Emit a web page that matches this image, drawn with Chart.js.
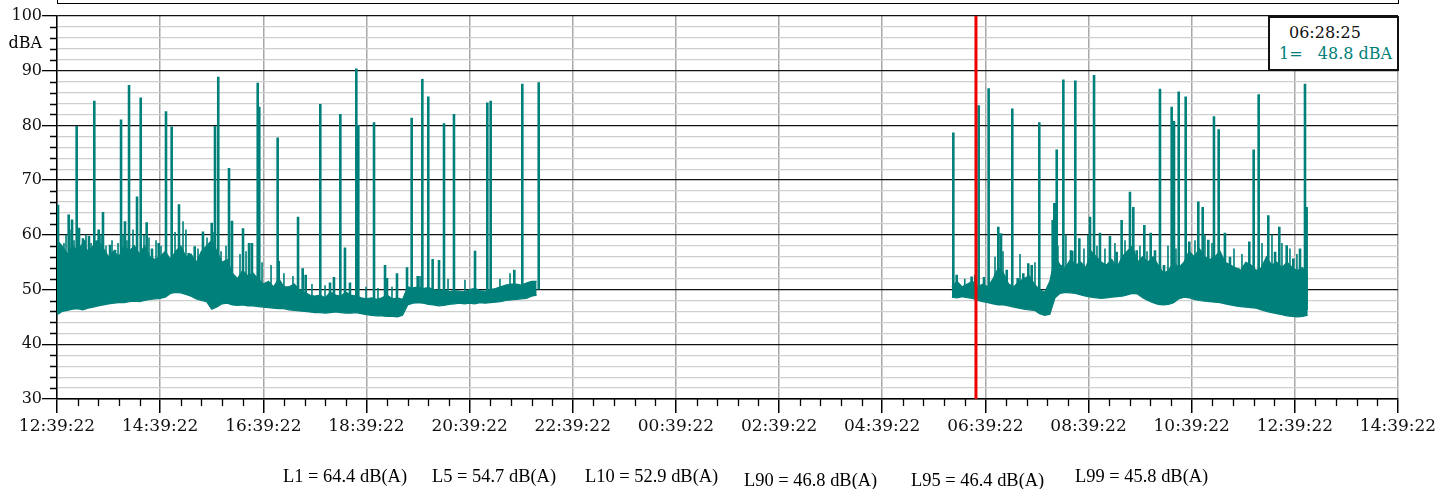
<!DOCTYPE html>
<html>
<head>
<meta charset="utf-8">
<script src="https://cdn.jsdelivr.net/npm/chart.js@4.4.1/dist/chart.umd.min.js"></script>
<style>
  html, body { margin: 0; padding: 0; background: #fff; overflow: hidden; }
  #wrap { position: relative; width: 1451px; height: 489px; }
  #chart { position: absolute; left: 0; top: 0; }
  #topbox { position: absolute; left: 57px; top: -31px; width: 1342px; height: 35px;
            box-sizing: border-box; border: 1.5px solid #000; }
  #cursorbox { position: absolute; left: 1268px; top: 16px; width: 131px; height: 55px;
               box-sizing: border-box; border: 2px solid #111; background: #fff;
               font-family: "DejaVu Serif", serif; font-size: 16px; }
  #cursorbox span { position: absolute; white-space: pre; line-height: 18px; }
  .stat { position: absolute; font-family: "Liberation Serif", serif; font-size: 19px;
          line-height: 19px; white-space: nowrap; transform: scaleX(0.97); transform-origin: left center; }
</style>
</head>
<body>
<div id="wrap">
  <canvas id="chart" width="1451" height="489"></canvas>
  <div id="topbox"></div>
  <div id="cursorbox">
    <span id="cursorTime" style="left:19px; top:6px; color:#111;"></span>
    <span id="cursorVal" style="left:9px; top:27px; color:#00807a;"></span>
  </div>
  <div id="stats"></div>
</div>
<script>
/* ---------------- DATA ---------------- */
const startClock = "12:39:22";
const cursorClock = "06:28:25";      // next morning
const cursorLevel = 48.8;
const yUnit = "dBA";

const xTickLabels = ["12:39:22", "14:39:22", "16:39:22", "18:39:22", "20:39:22", "22:39:22", "00:39:22",
                     "02:39:22", "04:39:22", "06:39:22", "08:39:22", "10:39:22", "12:39:22", "14:39:22"];

const statLabels = ["L1 = 64.4 dB(A)", "L5 = 54.7 dB(A)", "L10 = 52.9 dB(A)",
                    "L90 = 46.8 dB(A)", "L95 = 46.4 dB(A)", "L99 = 45.8 dB(A)"];

// minutes after 12:39:22, one sample every 6 min
const stepMin = 6;
const seg1Start = 0;
const seg2Start = 1041;

const seg1Low = [45.4, 46.0, 46.2, 46.4, 46.5, 46.3, 46.6, 46.8, 47.0, 47.2,
                 47.4, 47.5, 47.6, 47.6, 47.8, 47.9, 47.8, 48.0, 48.2, 48.3,
                 48.4, 48.6, 49.3, 49.5, 49.4, 49.1, 48.8, 48.3, 48.0, 47.8,
                 46.4, 46.8, 47.4, 47.5, 47.2, 47.1, 47.2, 47.0, 47.0, 46.9,
                 46.8, 46.7, 46.6, 46.5, 46.5, 46.3, 46.2, 46.1, 46.0, 45.9,
                 45.8, 45.8, 45.7, 45.8, 45.9, 45.8, 45.7, 45.7, 45.8, 45.6,
                 45.4, 45.3, 45.2, 45.2, 45.1, 45.1, 45.0, 45.3, 47.2, 47.5,
                 47.6, 47.5, 47.3, 47.2, 47.0, 47.1, 47.3, 47.4, 47.5, 47.4,
                 47.5, 47.4, 47.6, 47.5, 47.6, 47.7, 47.8, 48.0, 48.1, 48.2,
                 48.3, 48.4, 48.8, 49.0];
const seg1High = [59, 58, 56.5, 58, 57, 58.5, 57, 58, 59, 57.5,
                  56, 57, 56, 58, 57, 58, 56.5, 58, 56, 55.5,
                  56, 57, 55.5, 57, 58, 56, 56.5, 55, 57, 58,
                  59, 57, 55, 55.5, 53, 52, 53.5, 52.5, 53, 52,
                  51, 51.5, 50.5, 52, 50.5, 50.5, 51, 50, 49.5, 49,
                  48.8, 49, 48.5, 49.5, 49, 48.8, 49.5, 49, 48.8, 48.5,
                  48.3, 48.5, 48.2, 48.5, 49, 48.3, 48.5, 48.2, 50.5, 50.3,
                  50.5, 50.2, 50.4, 50, 49.8, 50, 49.6, 49.8, 49.7, 49.6,
                  50, 50.2, 49.8, 49.7, 50, 50.2, 50.5, 50.8, 51, 51,
                  50.8, 51.2, 51.5, 51.5];

const seg2Low = [48.6, 48.5, 48.7, 48.5, 48.4, 48.0, 47.8, 47.6, 47.4, 47.2,
                 47.2, 47.0, 46.8, 46.6, 46.4, 46.3, 46.2, 45.6, 45.3, 45.5,
                 48.5, 49.3, 49.5, 49.4, 49.3, 49.0, 48.8, 48.6, 48.5, 48.4,
                 48.5, 48.6, 48.7, 48.8, 49.0, 49.3, 49.2, 48.5, 48.0, 47.6,
                 47.3, 47.2, 47.3, 47.6, 48.3, 48.6, 48.5, 48.2, 48.0, 47.9,
                 47.8, 47.7, 47.6, 47.4, 47.2, 47.0, 46.9, 46.8, 46.7, 46.6,
                 46.3, 46.0, 45.8, 45.6, 45.4, 45.2, 45.1, 45.0, 45.1, 45.3];
const seg2High = [50.5, 51.5, 50.5, 51, 51.5, 50.5, 51, 50.5, 52, 54,
                  53, 51, 50.5, 51.5, 52, 52.5, 51, 50, 49.5, 51.5,
                  56, 54.5, 54, 55.5, 54.5, 55, 54, 57, 56, 55,
                  54.5, 55.5, 54, 56, 57, 58, 55, 56, 55, 56,
                  54.5, 53, 53.5, 55, 54, 55, 57, 56, 57.5, 56,
                  55.5, 56, 57, 55, 54.5, 54, 53.5, 55, 54.5, 53.5,
                  54, 56, 54.5, 55, 54, 55, 54, 53.5, 54, 52];

// short loud events: time (min) and peak level
const spike1Times = [1.2, 4, 13.6, 17.5, 22.9, 25.6, 30.2, 32.6, 37.2, 43.4,
                     48.5, 53.5, 61.7, 67.5, 74.5, 79.1, 83.8, 93.1, 97.4, 104.3,
                     110.5, 118.3, 126.8, 133.4, 141.9, 153.2, 160.2, 169.8, 180, 183.8,
                     187.6, 200.1, 203.6, 216.4, 223.4, 226.8, 233.5, 235.3, 256.7, 257.9,
                     280.4, 285.8, 289.3, 306.3, 317.6, 322.2, 329.6, 335, 340.8, 348.2,
                     350.5, 368.8, 381.6, 383.9, 395.5, 407.2, 412.6, 419.6, 425, 431.9,
                     437, 444.4, 450.2, 461.8, 486.3, 500.6, 504.5, 532, 541.3, 560.4];
const spike1Peaks = [65.5, 57.7, 63.7, 62.8, 79.9, 61.3, 59.4, 59, 59.8, 84.5,
                     61, 64.2, 58.2, 57.3, 81.1, 62.5, 87.4, 67, 85.1, 62.3,
                     57.5, 58.5, 82.6, 79.8, 65.6, 56.7, 57.9, 60.6, 62.2, 79.9,
                     88.9, 72.2, 62.6, 61.2, 58.5, 58.5, 87.8, 83.4, 77.8, 55.2,
                     63.3, 53.9, 52.7, 83.9, 51.3, 52.3, 82.1, 57.7, 51.3, 90.4,
                     80.1, 80.6, 54.5, 52.1, 53, 54.1, 81.4, 52.5, 88.5, 85.3,
                     55.6, 55.4, 80.4, 82.1, 57.1, 84.2, 84.5, 53.6, 87.6, 87.9];

const spike2Times = [1042.7, 1046.6, 1064, 1072.2, 1078.4, 1083.8, 1095, 1098.2, 1104.8, 1111.3,
                     1117.6, 1124.1, 1129.9, 1133.9, 1142.7, 1158.3, 1160.2, 1163, 1170.7, 1181.1,
                     1184.6, 1189.3, 1201.7, 1206.4, 1213.3, 1224.9, 1238.5, 1248.2, 1252.1, 1264.9,
                     1272.3, 1277.3, 1283.1, 1287.8, 1296.7, 1299.4, 1304.9, 1313, 1317.2, 1327.7,
                     1332.8, 1339.3, 1345.9, 1351.4, 1358.7, 1364.5, 1374.2, 1387, 1392.1, 1397.9,
                     1409.1, 1421.9, 1430.5, 1438.2, 1446, 1451.8, 1453.7, 1179.6, 1232.7, 1256, 1417];
const spike2Peaks = [78.7, 52.7, 52.4, 83.7, 52.3, 86.8, 61.5, 60.3, 53.6, 83.1,
                     52.1, 53, 54.8, 54.5, 80.6, 62.7, 65.8, 75.6, 88.4, 57.1,
                     88.2, 59.4, 63.3, 89.2, 60.4, 59.8, 62.7, 67.9, 65.1, 61.8,
                     60.4, 57.2, 86.7, 54.5, 83.4, 80.8, 86.2, 85.3, 58.8, 66.1,
                     65.1, 59.1, 81.7, 79.3, 60.4, 56, 53.9, 58.8, 75.6, 85.7,
                     63.6, 61.5, 58.1, 55.7, 57.5, 87.6, 65.1, 57.2, 56.9, 57.2, 56.9];

// smaller flickers on top of the background level
const fuzz1Times = [8.1, 10.5, 15.1, 19.8, 27.9, 33.7, 39.6, 45.4, 51.2, 57,
                    64, 71, 76.8, 81.4, 88.4, 101.2, 107, 115.2, 121, 137.3,
                    146.6, 150, 164, 174.5, 181.5, 190.8, 196.6, 212.9, 219.9, 238.5,
                    249, 264, 274.5, 296.6, 311.8, 359.5, 373.4, 389.7, 422.3, 454.9,
                    474.6, 515.3, 527];
const fuzz1Peaks = [58.5, 60, 61, 59, 58, 60, 58.5, 59, 60, 58,
                    59, 58.5, 60, 59, 61, 60, 59.5, 59, 58, 60.5,
                    62.5, 61, 57.5, 59.5, 60.5, 57, 58, 56.5, 57, 55,
                    54.5, 53, 52.5, 51, 50.8, 50.5, 50.3, 50.5, 52.5, 52,
                    51.8, 52, 53];

const fuzz2Times = [1056, 1067.6, 1091.2, 1100.5, 1120.3, 1137.7, 1164.4, 1173.7, 1194.7, 1199.3,
                    1209.8, 1219.1, 1230.7, 1242.4, 1259.8, 1268, 1292.4, 1301.7, 1323.8, 1335.4,
                    1343.6, 1369.2, 1378.5, 1401.8, 1413.4, 1425, 1434.3, 1442.4];
const fuzz2Peaks = [52, 52.7, 56, 57, 56.5, 55, 58, 60, 57.5, 60,
                    58, 57.5, 58.5, 59, 58, 57, 58, 57.5, 59, 60,
                    58.5, 57.5, 56.5, 58.5, 60, 58.5, 57.5, 56.5];

/* ---------------- HELPERS ---------------- */
const teal = "#00807a";

function clockSec(s) {
    const [h, m, sec] = s.split(":").map(Number);
    return h * 3600 + m * 60 + sec;
}
const cursorMin = (clockSec(cursorClock) + 86400 - clockSec(startClock)) / 60;

function toPoints(start, values) {
    return values.map((v, i) => ({ x: start + i * stepMin, y: v }));
}

// vertical strokes from the local background floor up to each peak
function spikePoints(times, peaks, start, lows) {
    const pts = [];
    times.forEach((t, k) => {
        const i = Math.max(0, Math.min(lows.length - 1, Math.round((t - start) / stepMin)));
        pts.push({ x: t, y: lows[i] + 1 }, { x: t, y: peaks[k] }, { x: t, y: null });
    });
    return pts;
}

/* ---------------- TEXT ---------------- */
document.getElementById("cursorTime").textContent = cursorClock;
document.getElementById("cursorVal").textContent = "1=   " + cursorLevel.toFixed(1) + " " + yUnit;

const statPos = [[283, 466], [432, 466], [585, 466], [744, 470], [911, 470], [1075, 466]];
document.getElementById("stats").innerHTML = statLabels
    .map((s, i) => `<span class="stat" style="left:${statPos[i][0]}px;top:${statPos[i][1]}px">${s}</span>`)
    .join("");

/* ---------------- DRAW ---------------- */
const minorTicks = {
    id: "minorTicks",
    afterDraw(chart) {
        const { ctx, chartArea: a, scales: { x, y } } = chart;
        ctx.save();
        ctx.strokeStyle = "#000";
        ctx.lineWidth = 1.3;
        ctx.beginPath();
        for (let v = 0; v <= 1560; v += 24) {
            if (v % 120 === 0) continue;
            const px = Math.round(x.getPixelForValue(v)) + 0.5;
            ctx.moveTo(px, a.bottom);
            ctx.lineTo(px, a.bottom + 7);
        }
        for (let v = 30; v <= 100; v += 2) {
            if (v % 10 === 0) continue;
            const py = Math.round(y.getPixelForValue(v)) + 0.5;
            ctx.moveTo(a.left - 7, py);
            ctx.lineTo(a.left, py);
        }
        ctx.stroke();
        ctx.font = '16px "DejaVu Serif"';
        ctx.textAlign = "right";
        ctx.textBaseline = "middle";
        ctx.fillStyle = "#000";
        ctx.fillText(yUnit, a.left - 15, y.getPixelForValue(95));
        ctx.restore();
    }
};

const band = (data, fill) => ({
    data, fill, borderColor: teal, backgroundColor: teal, borderWidth: 1.2,
    pointRadius: 0, tension: 0, order: 4
});

new Chart(document.getElementById("chart"), {
    type: "line",
    data: {
        datasets: [
            band(toPoints(seg1Start, seg1High), false),
            band(toPoints(seg1Start, seg1Low), "-1"),
            band(toPoints(seg2Start, seg2High), false),
            band(toPoints(seg2Start, seg2Low), "-1"),
            {
                data: spikePoints(fuzz1Times, fuzz1Peaks, seg1Start, seg1Low)
                    .concat(spikePoints(fuzz2Times, fuzz2Peaks, seg2Start, seg2Low)),
                borderColor: teal, borderWidth: 1.6, pointRadius: 0, fill: false,
                spanGaps: false, order: 3
            },
            {
                data: spikePoints(spike1Times, spike1Peaks, seg1Start, seg1Low)
                    .concat(spikePoints(spike2Times, spike2Peaks, seg2Start, seg2Low)),
                borderColor: teal, borderWidth: 2.6, pointRadius: 0, fill: false,
                spanGaps: false, order: 2
            },
            {
                data: [{ x: cursorMin, y: 30 }, { x: cursorMin, y: 100 }],
                borderColor: "#ee0000", borderWidth: 3, pointRadius: 0, fill: false, order: 0
            }
        ]
    },
    options: {
        responsive: false,
        animation: false,
        layout: { padding: { top: 16, right: 53, left: 0, bottom: 0 } },
        plugins: { legend: { display: false }, tooltip: { enabled: false } },
        scales: {
            x: {
                type: "linear", min: 0, max: 1560,
                afterFit: s => { s.height = 90; },
                border: { color: "#000", width: 1.5 },
                grid: { color: "#a8a8a8", lineWidth: 1.5, tickLength: 14, tickColor: "#000" },
                ticks: {
                    stepSize: 120, autoSkip: false, maxRotation: 0, minRotation: 0, padding: 3,
                    color: "#111", font: { family: "DejaVu Serif", size: 17 },
                    callback: v => xTickLabels[Math.round(v / 120)]
                }
            },
            y: {
                min: 30, max: 100,
                afterFit: s => { s.width = 57; },
                border: { color: "#000", width: 1.5 },
                grid: {
                    color: c => c.tick.value % 10 === 0 ? "#111" : "#cfcfcf",
                    lineWidth: c => c.tick.value % 10 === 0 ? 1.3 : 1.2,
                    tickLength: 15,
                    tickColor: c => c.tick.value % 10 === 0 ? "#000" : "rgba(0,0,0,0)"
                },
                ticks: {
                    stepSize: 2, autoSkip: false, padding: 0,
                    color: "#111", font: { family: "DejaVu Serif", size: 16 },
                    callback: v => v % 10 === 0 ? String(v) : ""
                }
            }
        }
    },
    plugins: [minorTicks]
});
</script>
</body>
</html>
